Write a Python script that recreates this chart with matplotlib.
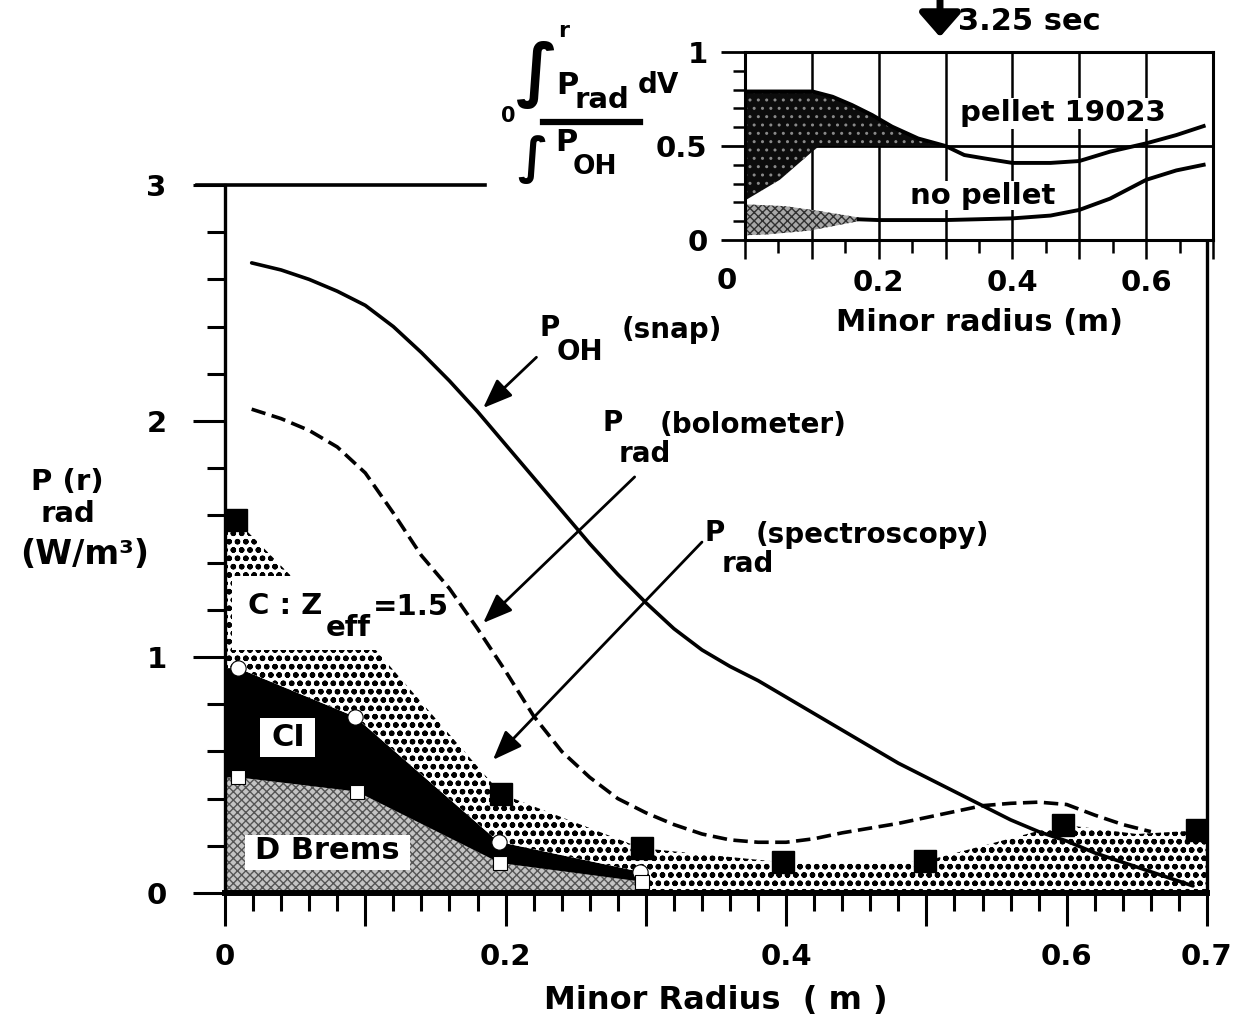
import numpy as np
import matplotlib
matplotlib.use("Agg")
import matplotlib.pyplot as plt
from matplotlib.patches import Rectangle, FancyArrowPatch
from matplotlib.lines import Line2D
from matplotlib.ticker import FixedLocator, MultipleLocator

plt.rcParams['font.family'] = ['DejaVu Sans']
plt.rcParams['font.weight'] = 'bold'

# ---------------- main panel data: radiated power profiles (W/m^3) ----------------
# Ohmic input power P_OH (snap)
poh_r = [0.019, 0.04, 0.06, 0.08, 0.10, 0.12, 0.14, 0.16, 0.18, 0.20, 0.22, 0.24,
         0.26, 0.28, 0.30, 0.32, 0.34, 0.36, 0.38, 0.40, 0.42, 0.44, 0.46, 0.48,
         0.50, 0.52, 0.54, 0.56, 0.58, 0.60, 0.62, 0.64, 0.66, 0.69]
poh_v = [2.67, 2.64, 2.60, 2.55, 2.49, 2.40, 2.29, 2.17, 2.04, 1.90, 1.76, 1.62,
         1.48, 1.35, 1.23, 1.12, 1.03, 0.96, 0.90, 0.83, 0.76, 0.69, 0.62, 0.55,
         0.49, 0.43, 0.37, 0.31, 0.26, 0.22, 0.17, 0.13, 0.09, 0.03]

# P_rad from the bolometer array
bolo_r = [0.019, 0.04, 0.06, 0.08, 0.10, 0.12, 0.14, 0.16, 0.18, 0.20, 0.22, 0.24,
          0.26, 0.28, 0.30, 0.32, 0.34, 0.36, 0.38, 0.40, 0.42, 0.44, 0.46, 0.48,
          0.50, 0.52, 0.54, 0.56, 0.58, 0.60, 0.62, 0.64, 0.66]
bolo_v = [2.05, 2.01, 1.96, 1.89, 1.78, 1.61, 1.43, 1.29, 1.12, 0.94, 0.75, 0.60,
          0.49, 0.40, 0.34, 0.29, 0.25, 0.225, 0.215, 0.215, 0.23, 0.255, 0.275, 0.295,
          0.32, 0.345, 0.37, 0.38, 0.385, 0.375, 0.33, 0.29, 0.26]

# P_rad from spectroscopy: total with carbon at Zeff = 1.5 (filled squares)
spec_r = [0.008, 0.197, 0.297, 0.398, 0.499, 0.597, 0.693]
spec_v = [1.58, 0.42, 0.19, 0.13, 0.135, 0.29, 0.265]
# upper envelope of the carbon band
c_env_r = [0.0, 0.008, 0.046, 0.106, 0.197, 0.297, 0.398, 0.499, 0.597, 0.65, 0.693, 0.70]
c_env_v = [1.58, 1.58, 1.35, 1.04, 0.42, 0.19, 0.13, 0.135, 0.29, 0.25, 0.265, 0.265]
# CI line radiation (open circles)
ci_r = [0.0093, 0.0927, 0.195, 0.296]
ci_v = [0.953, 0.747, 0.217, 0.09]
# deuterium bremsstrahlung (open squares)
db_r = [0.0093, 0.0938, 0.196, 0.297]
db_v = [0.49, 0.43, 0.127, 0.048]

# ---------------- inset data: integral P_rad dV / integral P_OH dV ----------------
pel_r = [0.0, 0.101, 0.131, 0.16, 0.19, 0.22, 0.259, 0.30, 0.328, 0.358,
         0.40, 0.457, 0.50, 0.546, 0.60, 0.645, 0.686]
pel_v = [0.79, 0.79, 0.762, 0.718, 0.665, 0.603, 0.54, 0.50, 0.452, 0.434,
         0.41, 0.41, 0.42, 0.47, 0.514, 0.558, 0.606]
pel_lo_r = [0.0, 0.052, 0.099, 0.111, 0.30]
pel_lo_v = [0.21, 0.32, 0.465, 0.50, 0.50]

nop_hi_r = [0.0, 0.06, 0.11, 0.17]
nop_hi_v = [0.19, 0.18, 0.155, 0.12]
nop_lo_r = [0.0, 0.035, 0.097, 0.17]
nop_lo_v = [0.025, 0.03, 0.05, 0.10]
nop_r = [0.17, 0.20, 0.30, 0.40, 0.457, 0.50, 0.546, 0.60, 0.645, 0.686]
nop_v = [0.11, 0.106, 0.106, 0.115, 0.13, 0.16, 0.22, 0.32, 0.37, 0.40]

main_xticklabels = ['0', '', '0.2', '', '0.4', '', '0.6', '0.7']
inset_xticklabels = ['', '', '0.2', '', '0.4', '', '0.6', '']

# ---------------- figure ----------------
W, H = 1246, 1014
fig = plt.figure(figsize=(W / 100, H / 100), dpi=100)


def fp(px, py):
    """pixel position -> figure fraction"""
    return px / W, 1 - py / H


ax = fig.add_axes([225 / W, 1 - 893 / H, (1207 - 225) / W, (893 - 185) / H])
ax.set_xlim(0, 0.7)
ax.set_ylim(0, 3)

r = np.linspace(0, 0.7, 2801)
db = np.interp(r, db_r, db_v, right=0.0)
ci = np.interp(r, ci_r, ci_v, right=0.0)
ctop = np.interp(r, c_env_r, c_env_v)

ax.fill_between(r, 0, db, facecolor='#c4c4c4', edgecolor='#555555', hatch='xxxx',
                linewidth=0, zorder=1)
ax.fill_between(r, db, ci, where=ci > 0, facecolor='black', linewidth=0, zorder=1.1)
with plt.rc_context({'hatch.linewidth': 1.6}):
    ax.fill_between(r, np.maximum(ci, 0), ctop, facecolor='white', edgecolor='black',
                    hatch='oo', linewidth=0, zorder=1.2)

# white label boxes on top of the bands
ax.add_patch(Rectangle((0.005, 1.03), 0.155, 0.315, facecolor='white', edgecolor='none', zorder=2))
ax.add_patch(Rectangle((0.025, 0.576), 0.039, 0.166, facecolor='white', edgecolor='none', zorder=2))
ax.add_patch(Rectangle((0.014, 0.097), 0.118, 0.149, facecolor='white', edgecolor='none', zorder=2))

ax.plot(poh_r, poh_v, color='black', lw=2.6, solid_capstyle='round', zorder=4)
ax.plot(bolo_r, bolo_v, color='black', lw=2.6, linestyle=(0, (4, 1.8)), zorder=4)

ax.plot(spec_r, spec_v, linestyle='none', marker='s', ms=16, mfc='black', mec='black', zorder=5)
ax.plot(ci_r, ci_v, linestyle='none', marker='o', ms=11, mfc='white', mec='black', mew=0.8, zorder=5)
ax.plot(db_r, db_v, linestyle='none', marker='s', ms=10, mfc='white', mec='black', mew=0.8, zorder=5)

# axes styling
ax.spines['top'].set_visible(False)
ax.spines['left'].set_linewidth(2.4)
ax.spines['right'].set_linewidth(2.4)
ax.spines['bottom'].set_linewidth(4.3)
ax.xaxis.set_major_locator(FixedLocator(np.round(np.arange(0, 0.71, 0.1), 2)))
ax.xaxis.set_minor_locator(MultipleLocator(0.02))
ax.set_xticklabels(main_xticklabels)
ax.yaxis.set_major_locator(FixedLocator([0, 1, 2, 3]))
ax.yaxis.set_minor_locator(MultipleLocator(0.2))
ax.tick_params(axis='x', which='major', direction='out', length=24, width=2.2, pad=12, labelsize=21)
ax.tick_params(axis='x', which='minor', direction='out', length=13, width=2.2)
ax.tick_params(axis='y', which='major', direction='out', length=23, width=2.2, pad=19, labelsize=21)
ax.tick_params(axis='y', which='minor', direction='out', length=13, width=2.2)
ax.plot([-0.02, 0.185], [3, 3], color='black', lw=2.6, clip_on=False, zorder=6)
ax.set_xlabel('Minor Radius  ( m )', fontsize=23, fontweight='bold', labelpad=10)

# y label
fig.text(*fp(67, 482), 'P (r)', fontsize=21, ha='center', va='center')
fig.text(*fp(68, 514), 'rad', fontsize=21, ha='center', va='center')
fig.text(*fp(85, 555), '(W/m³)', fontsize=24, ha='center', va='center')

# band labels
ax.text(0.045, 0.66, 'CI', fontsize=22, ha='center', va='center', zorder=3)
ax.text(0.073, 0.178, 'D Brems', fontsize=22, ha='center', va='center', zorder=3)
fig.text(*fp(285, 606), 'C : Z', fontsize=21, ha='center', va='center', zorder=7)
fig.text(*fp(348, 628), 'eff', fontsize=21, ha='center', va='center', zorder=7)
fig.text(*fp(411, 607), '=1.5', fontsize=21, ha='center', va='center', zorder=7)

# curve labels
fig.text(*fp(550, 328), 'P', fontsize=20, ha='center', va='center')
fig.text(*fp(580, 352), 'OH', fontsize=20, ha='center', va='center')
fig.text(*fp(672, 330), '(snap)', fontsize=20, ha='center', va='center')
fig.text(*fp(613, 423), 'P', fontsize=20, ha='center', va='center')
fig.text(*fp(753, 425), '(bolometer)', fontsize=20, ha='center', va='center')
fig.text(*fp(645, 454), 'rad', fontsize=20, ha='center', va='center')
fig.text(*fp(715, 533), 'P', fontsize=20, ha='center', va='center')
fig.text(*fp(872, 535), '(spectroscopy)', fontsize=20, ha='center', va='center')
fig.text(*fp(748, 564), 'rad', fontsize=20, ha='center', va='center')

arrow_kw = dict(arrowstyle='-|>,head_length=0.9,head_width=0.35', color='black', lw=2.0,
                shrinkA=0, shrinkB=0, mutation_scale=20)
ax.annotate('', xy=(0.184, 2.055), xytext=(0.222, 2.27), arrowprops=arrow_kw, zorder=6)
ax.annotate('', xy=(0.184, 1.144), xytext=(0.292, 1.763), arrowprops=arrow_kw, zorder=6)
ax.annotate('', xy=(0.191, 0.564), xytext=(0.34, 1.487), arrowprops=arrow_kw, zorder=6)

# ---------------- inset ----------------
ai = fig.add_axes([745 / W, 1 - 240 / H, (1213 - 745) / W, (240 - 52) / H])
ai.set_xlim(0, 0.7)
ai.set_ylim(0, 1)
ai.set_facecolor('white')

ri = np.linspace(0, 0.3, 601)
ai.fill_between(ri, np.interp(ri, pel_lo_r, pel_lo_v), np.interp(ri, pel_r, pel_v),
                facecolor='#0c0c0c', edgecolor='#8a8a8a', hatch='..', linewidth=0, zorder=2)
rn = np.linspace(0, 0.17, 341)
ai.fill_between(rn, np.interp(rn, nop_lo_r, nop_lo_v), np.interp(rn, nop_hi_r, nop_hi_v),
                facecolor='#a8a8a8', edgecolor='#303030', hatch='xxxx', linewidth=0, zorder=2)
ai.plot(pel_r, pel_v, color='black', lw=2.8, zorder=3)
ai.plot(nop_r, nop_v, color='black', lw=2.8, zorder=5)
ai.axhline(0.5, color='black', lw=2.0, zorder=1.5)

for s in ai.spines.values():
    s.set_linewidth(2.2)
ai.xaxis.set_major_locator(FixedLocator(np.round(np.arange(0, 0.71, 0.1), 2)))
ai.xaxis.set_minor_locator(MultipleLocator(0.05))
ai.set_xticklabels(inset_xticklabels)
ai.yaxis.set_major_locator(FixedLocator([0, 0.5, 1]))
ai.yaxis.set_minor_locator(MultipleLocator(0.1))
ai.set_yticklabels(['0', '0.5', '1'])
ai.grid(axis='x', which='major', color='black', lw=1.8, zorder=1)
ai.set_axisbelow(True)
ai.tick_params(axis='x', which='major', direction='out', length=14, width=1.8, pad=7, labelsize=21)
ai.tick_params(axis='x', which='minor', direction='out', length=9, width=1.8)
ai.tick_params(axis='y', which='major', direction='out', length=17, width=2.0, pad=10, labelsize=21)
ai.tick_params(axis='y', which='minor', direction='out', length=9, width=1.8)
ai.text(-0.027, -0.22, '0', fontsize=21, ha='center', va='center', transform=ai.transData,
        clip_on=False)
ai.set_xlabel('Minor radius (m)', fontsize=22, fontweight='bold', labelpad=8)

ai.text(0.475, 0.675, 'pellet 19023', fontsize=21, ha='center', va='center', zorder=4,
        bbox=dict(facecolor='white', edgecolor='none', pad=1))
ai.text(0.355, 0.235, 'no pellet', fontsize=21, ha='center', va='center', zorder=4,
        bbox=dict(facecolor='white', edgecolor='none', pad=0.5))

# inset ordinate: integral expression
fig.text(*fp(508, 116), '0', fontsize=15, ha='center', va='center')
fig.text(*fp(537, 75), '∫', fontsize=50, ha='center', va='center')
fig.text(*fp(564, 31), 'r', fontsize=16, ha='center', va='center')
fig.text(*fp(567, 85), 'P', fontsize=22, ha='center', va='center')
fig.text(*fp(602, 100), 'rad', fontsize=21, ha='center', va='center')
fig.text(*fp(658, 85), 'dV', fontsize=20, ha='center', va='center')
fig.add_artist(Line2D([543 / W, 640 / W], [1 - 122 / H, 1 - 122 / H], color='black', lw=4.5))
fig.text(*fp(533, 160), '∫', fontsize=36, ha='center', va='center')
fig.text(*fp(566, 143), 'P', fontsize=22, ha='center', va='center')
fig.text(*fp(595, 167), 'OH', fontsize=19, ha='center', va='center')

# time marker
fig.add_artist(FancyArrowPatch(fp(940, -2), fp(940, 37), transform=fig.transFigure,
                               arrowstyle='-|>,head_length=0.8,head_width=0.7',
                               mutation_scale=18, lw=5, color='black', shrinkA=0, shrinkB=0))
fig.text(*fp(958, 22), '3.25 sec', fontsize=22, ha='left', va='center')

fig.savefig('out.png', dpi=100)
